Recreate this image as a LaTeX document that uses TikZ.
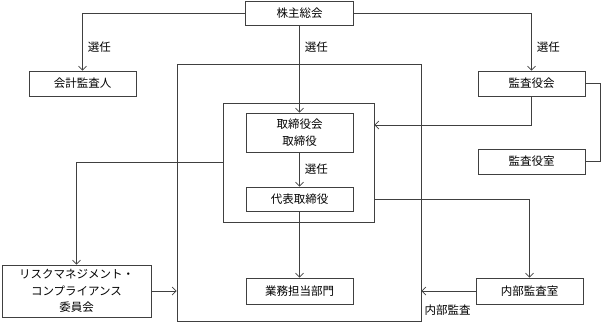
\documentclass[tikz,border=0pt]{standalone}
\usepackage{fontspec}
\setmainfont{Noto Sans CJK JP}
\usetikzlibrary{arrows.meta,positioning}

\begin{document}
\begin{tikzpicture}[x=1pt, y=-1pt,
    box/.style={
        draw=black!75,
        line width=0.7pt,
        align=center,
        font=\fontsize{11.5}{16.5}\selectfont,
        inner sep=1pt,
        minimum width=107pt,
        minimum height=25pt
    },
    frame/.style={draw=black!75, line width=0.7pt, inner sep=0pt},
    relation/.style={-{Straight Barb[length=4pt,width=8pt]}, draw=black!75, line width=0.7pt},
    link/.style={draw=black!75, line width=0.7pt},
    reltext/.style={font=\fontsize{11.5}{14}\selectfont, inner sep=1pt}
]
\useasboundingbox (0,0) rectangle (604,322);

\node[frame, minimum width=244pt, minimum height=257pt] (company) at (299,192.5) {};
\node[frame, minimum width=151pt, minimum height=119pt] (board) at (298.5,162.5) {};

\node[box, minimum width=108pt, minimum height=24pt] (shareholders) at (299.5,13) {株主総会};
\node[box] (auditor) at (82.5,83.5) {会計監査人};
\node[box] (audit_board) at (531.5,83.5) {監査役会};
\node[box] (audit_office) at (531.5,161.5) {監査役室};
\node[box, minimum height=39pt] (directors) at (299.5,132.5) {取締役会\\取締役};
\node[box, minimum height=24pt] (ceo) at (299.5,199) {代表取締役};
\node[box, minimum height=26pt] (operations) at (299.5,291) {業務担当部門};
\node[box, minimum height=26pt] (internal_audit) at (529.5,291) {内部監査室};
\node[box, minimum width=149pt, minimum height=52pt] (risk) at (76.5,291) {リスクマネジメント・\\コンプライアンス\\委員会};

\draw[relation] (shareholders.west) -| node[reltext, pos=0.8, right=4pt]{選任} (auditor.north);
\draw[relation] (shareholders.east) -| node[reltext, pos=0.8, right=4pt]{選任} (audit_board.north);
\draw[relation] (shareholders) -- node[reltext, pos=0.25, right=4pt]{選任} (directors);
\draw[relation] (directors) -- node[reltext, right=4pt]{選任} (ceo);
\draw[relation] (ceo) -- (operations);
\draw[relation] (audit_board.south) |- ([yshift=37.5pt]board.east);
\draw[link] (audit_board.east) -- ++(15,0) |- (audit_office.east);
\draw[relation] (board.east |- ceo) -| (internal_audit.north);
\draw[relation] (board.west) -| (risk.north);
\draw[relation] (risk.east) -- (risk.east -| company.west);
\draw[relation] (internal_audit.west) -- node[reltext, pos=1, below right=12pt and 2pt]{内部監査} (internal_audit.west -| company.east);

\end{tikzpicture}
\end{document}
